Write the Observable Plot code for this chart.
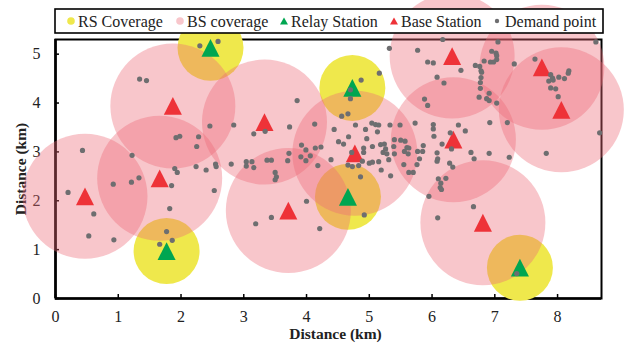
<!DOCTYPE html>
<html><head><meta charset="utf-8">
<script src="https://cdn.jsdelivr.net/npm/d3@7"></script>
<script src="https://cdn.jsdelivr.net/npm/@observablehq/plot@0.6"></script>
<style>html,body{margin:0;padding:0;background:#fff;} svg{display:block;}</style>
</head><body><div id="chart"></div>
<script>
const xTicks = [0, 1, 2, 3, 4, 5, 6, 7, 8];
const yTicks = [0, 1, 2, 3, 4, 5];
const axisTitle = "Distance (km)";
const legendLabels = ["RS Coverage", "BS coverage", "Relay Station", "Base Station", "Demand point"];

// Relay stations (RS) – centre of RS coverage
const relayX = [2.47, 4.73, 1.77, 4.66, 7.40];
const relayY = [5.13, 4.31, 0.97, 2.08, 0.63];

// Base stations (BS) – centre of BS coverage
const baseX = [0.47, 1.66, 1.87, 3.33, 3.71, 4.77, 6.32, 6.34, 7.75, 8.06, 6.81];
const baseY = [2.09, 2.46, 3.94, 3.61, 1.80, 2.97, 4.96, 3.25, 4.73, 3.86, 1.55];

// Demand points
const demandX = [2.30,2.59,1.34,1.45,2.46,2.84,1.92,1.98,2.28,2.25,
0.43,1.22,1.90,1.94,2.24,2.40,2.55,2.56,2.80,1.33,
1.21,0.92,0.20,0.61,0.53,0.93,1.85,2.53,1.82,1.77,
1.66,1.86,3.85,3.73,4.13,3.16,3.34,3.92,3.99,4.14,
4.23,3.72,3.91,4.06,3.99,3.70,3.37,3.44,3.04,3.13,
3.04,3.16,4.39,4.18,3.50,3.52,3.50,4.00,3.44,3.19,
4.21,4.70,4.70,4.87,5.16,4.56,4.66,4.44,4.78,4.94,
5.04,5.10,5.15,5.13,5.33,5.49,5.73,4.67,4.51,4.59,
4.96,4.91,5.05,5.18,5.24,5.40,5.50,5.57,5.39,5.60,
5.63,5.77,5.85,5.22,5.28,5.26,4.91,4.72,5.56,5.62,
5.40,4.89,4.66,4.73,4.83,5.00,5.05,5.15,5.31,5.55,
5.76,5.80,5.19,5.63,5.70,4.86,5.34,4.92,5.32,5.77,
6.17,7.05,6.95,7.02,7.03,7.03,6.93,6.83,6.98,7.31,
5.93,6.02,6.46,6.69,6.76,6.78,6.79,6.08,6.19,6.78,
6.77,6.77,6.75,6.91,6.87,6.91,7.03,5.88,5.93,6.02,
6.02,6.42,6.53,6.92,7.20,8.61,7.64,7.89,7.92,7.86,
7.93,8.02,8.11,8.18,8.17,7.89,7.97,8.01,8.67,7.82,
6.91,6.62,6.67,7.23,6.03,6.29,6.16,5.86,6.08,6.09,
6.08,6.31,6.28,6.33,6.10,6.22,6.14,6.13,6.15,5.95,
6.66,6.09,7.35];
const demandY = [5.17,5.26,4.49,4.46,3.53,3.55,3.29,3.32,3.31,3.11,
3.03,2.93,2.66,2.58,2.70,2.63,2.75,2.70,2.75,2.47,
2.38,2.34,2.17,1.73,1.28,1.20,2.31,2.21,1.84,1.37,
1.11,1.19,4.05,3.51,3.57,3.37,3.42,3.14,3.04,3.08,
3.10,2.97,2.90,2.92,2.82,2.82,2.83,2.83,2.80,2.80,
2.71,2.68,2.84,2.72,2.58,2.49,2.43,1.99,1.66,1.53,
1.43,4.09,4.27,4.47,4.61,3.73,3.78,3.46,3.55,3.46,
3.59,3.56,3.55,3.41,3.55,3.55,3.59,3.31,3.21,3.16,
3.27,3.08,3.11,3.15,3.16,3.25,3.24,3.22,3.11,3.09,
3.08,3.01,3.01,2.99,2.96,3.06,2.99,2.99,3.01,2.96,
2.96,2.81,2.73,2.70,2.72,2.77,2.79,2.80,2.84,2.74,
2.74,2.86,2.63,2.58,2.58,2.49,2.51,1.71,5.12,5.08,
5.30,5.25,5.06,5.02,4.97,4.89,4.84,4.86,4.84,4.80,
4.84,4.82,4.67,4.77,4.75,4.66,4.63,4.53,4.41,4.52,
4.42,4.30,4.12,4.20,4.09,4.05,4.00,4.08,3.95,3.56,
3.47,3.55,3.43,3.60,3.60,5.25,4.90,4.58,4.51,4.45,
4.47,4.53,4.50,4.66,4.61,4.31,4.29,4.13,3.39,2.97,
2.97,2.99,2.86,2.89,3.32,3.39,3.16,3.13,2.98,2.86,
2.81,3.06,2.77,2.69,2.45,2.46,2.36,2.27,2.23,2.09,
1.88,1.65,0.51];

const relay = relayX.map((x, i) => ({x, y: relayY[i]}));
const base = baseX.map((x, i) => ({x, y: baseY[i]}));
const demand = demandX.map((x, i) => ({x, y: demandY[i]}));

const C = {yellow: "#EFE84C", pink: "#EC6A75", green: "#00A651", red: "#EE3238", gray: "#6E6E70"};
const FONT = "Liberation Serif, Times New Roman, serif";

// Isosceles triangle marker, centred on its bounding box
const tri = {draw(ctx, size) {
  const r = Math.sqrt(size / Math.PI);
  const w = r * 1.22, h = r * 1.2;
  ctx.moveTo(0, -h); ctx.lineTo(w, h); ctx.lineTo(-w, h); ctx.closePath();
}};

const chart = Plot.plot({
  width: 624, height: 345,
  marginLeft: 55, marginRight: 23, marginTop: 39, marginBottom: 47,
  style: {fontFamily: FONT, fontSize: "16px", color: "#222", background: "#fff", overflow: "visible"},
  x: {domain: [0, 8.7], ticks: xTicks},
  y: {domain: [0, 5.3], ticks: yTicks},
  marks: [
    Plot.frame({stroke: "#000", strokeWidth: 2}),
    Plot.ruleY([0], {stroke: "#000", strokeWidth: 2.6}),
    Plot.ruleX([0], {stroke: "#000", strokeWidth: 2.6}),
    Plot.axisX({ticks: xTicks, tickFormat: d => String(d), tickSize: 0, tickPadding: 12, label: null, fontFamily: FONT}),
    Plot.axisY({ticks: yTicks, tickFormat: d => String(d), tickSize: 0, tickPadding: 15, label: null, fontFamily: FONT}),
    Plot.ruleX(xTicks, {x: d => d, y1: 0, y2: 0, insetBottom: 4, stroke: "#000", strokeWidth: 1.5}),
    Plot.ruleY(yTicks, {y: d => d, x1: 0, x2: 0, insetLeft: 4, stroke: "#000", strokeWidth: 1.5}),
    Plot.text([axisTitle], {text: d => d, frameAnchor: "bottom", lineAnchor: "middle", textAnchor: "middle", dy: 36, dx: 7, fontWeight: "bold", fontSize: 15.5, fontFamily: FONT, fill: "#222"}),
    Plot.text([axisTitle], {text: d => d, frameAnchor: "left", lineAnchor: "middle", textAnchor: "middle", rotate: -90, dx: -34, fontWeight: "bold", fontSize: 15.5, fontFamily: FONT, fill: "#222"}),
    Plot.dot(relay, {x: "x", y: "y", r: 33, fill: C.yellow}),
    Plot.dot(base, {x: "x", y: "y", r: 62.5, fill: C.pink, fillOpacity: 0.38}),
    Plot.dot(relay, {x: "x", y: "y", r: 7.4, symbol: tri, fill: C.green}),
    Plot.dot(base, {x: "x", y: "y", r: 7.4, symbol: tri, fill: C.red}),
    Plot.dot(demand, {x: "x", y: "y", r: 2.6, fill: C.gray})
  ]
});

// Legend box drawn on top of the coverage circles
const svg = d3.select(chart);
const lg = svg.append("g").attr("font-family", FONT).attr("font-size", 16).attr("text-anchor", "start");
lg.append("rect").attr("x", 55).attr("y", 9).attr("width", 548).attr("height", 24)
  .attr("fill", "#fff").attr("stroke", "#000").attr("stroke-width", 1.6);
const symX = [71, 180, 284, 394, 497];
const txtX = [78, 187, 291, 401, 505];
lg.append("circle").attr("cx", symX[0]).attr("cy", 21).attr("r", 3.8).attr("fill", C.yellow);
lg.append("circle").attr("cx", symX[1]).attr("cy", 21).attr("r", 3.8).attr("fill", C.pink).attr("fill-opacity", 0.38);
lg.append("path").attr("d", `M${symX[2]},17.5L${symX[2]+4},24.5L${symX[2]-4},24.5Z`).attr("fill", C.green);
lg.append("path").attr("d", `M${symX[3]},17.5L${symX[3]+4},24.5L${symX[3]-4},24.5Z`).attr("fill", C.red);
lg.append("circle").attr("cx", symX[4]).attr("cy", 21).attr("r", 2.2).attr("fill", C.gray);
legendLabels.forEach((t, i) => {
  lg.append("text").attr("x", txtX[i]).attr("y", 26.5).attr("text-anchor", "start").attr("fill", "#222").text(t);
});

document.getElementById("chart").appendChild(chart);
</script>
</body></html>
